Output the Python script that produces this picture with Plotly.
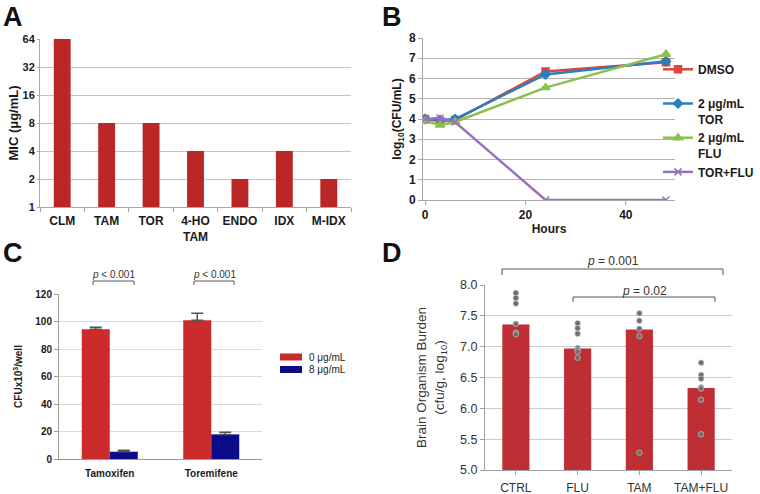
import plotly.graph_objects as go

# ---------------- data ----------------
# Panel A
a_drugs = ["CLM", "TAM", "TOR", "4-HO<br>TAM", "ENDO", "IDX", "M-IDX"]
a_mic = [64, 8, 8, 4, 2, 4, 2]
a_ticks = [1, 2, 4, 8, 16, 32, 64]

# Panel B
b_hours = [0, 3, 6, 24, 48]
b_dmso = [4.0, 3.9, 3.95, 6.35, 6.8]
b_tor = [4.0, 3.95, 4.0, 6.2, 6.85]
b_flu = [3.9, 3.7, 3.85, 5.55, 7.2]
b_torflu = [4.0, 4.05, 3.85, 0.0, 0.0]

# Panel C
c_drugs = ["Tamoxifen", "Toremifene"]
c_zero = [94.3, 101.0]
c_zero_err = [1.5, 5.0]
c_eight = [5.3, 17.9]
c_eight_err = [1.0, 1.5]
c_legend = ["0 μg/mL", "8 μg/mL"]

# Panel D
d_groups = ["CTRL", "FLU", "TAM", "TAM+FLU"]
d_means = [7.36, 6.97, 7.28, 6.33]
d_ctrl_pts = [7.87, 7.79, 7.70, 7.37, 7.23, 7.20]
d_flu_pts = [7.38, 7.30, 7.21, 6.98, 6.95, 6.92, 6.82]
d_tam_pts = [7.54, 7.42, 7.29, 7.17, 5.28]
d_tamflu_pts = [6.74, 6.54, 6.48, 6.34, 6.32, 6.14, 5.58]

FONT = "Liberation Sans, Arial, sans-serif"
W, H = 760, 494
C_RED, C_BLUE = "#cc2b2b", "#0b0b8a"

def px(x):
    return x / W

def py(y):
    return 1 - y / H

fig = go.Figure()

# ---- Panel A ----
fig.add_trace(go.Bar(x=a_drugs, y=a_mic, xaxis="x", yaxis="y", width=0.38,
                     marker=dict(color="#bb2727", line=dict(width=0)), showlegend=False))

# ---- Panel B ----
b_series = [
    ("DMSO<br> ", b_dmso, "#e0443c", "square", 7),
    ("2 μg/mL<br>TOR", b_tor, "#2a7fc0", "diamond", 7),
    ("2 μg/mL<br>FLU", b_flu, "#8cc051", "triangle-up", 8),
    ("TOR+FLU<br> ", b_torflu, "#9a6fc0", "x-thin-open", 7),
]
for name, ys, col, sym, sz in b_series:
    fig.add_trace(go.Scatter(x=b_hours, y=ys, xaxis="x2", yaxis="y2", name=name,
                             mode="lines+markers", line=dict(color=col, width=2.5),
                             marker=dict(symbol=sym, size=sz, color=col,
                                         line=dict(color=col, width=1.5)),
                             legend="legend", legendgroup=name))

# ---- Panel C ----
fig.add_trace(go.Bar(x=c_drugs, y=c_zero, xaxis="x3", yaxis="y3", name=c_legend[0],
                     width=0.276, offset=-0.276,
                     marker=dict(color=C_RED, line=dict(width=0)),
                     error_y=dict(type="data", array=c_zero_err, arrayminus=[0, 0],
                                  color="#555555", thickness=1.5, width=6),
                     showlegend=False))
fig.add_trace(go.Bar(x=c_drugs, y=c_eight, xaxis="x3", yaxis="y3", name=c_legend[1],
                     width=0.276, offset=0,
                     marker=dict(color=C_BLUE, line=dict(width=0)),
                     error_y=dict(type="data", array=c_eight_err, arrayminus=[0, 0],
                                  color="#555555", thickness=1.5, width=6),
                     showlegend=False))

# ---- Panel D ----
fig.add_trace(go.Bar(x=d_groups, y=d_means, xaxis="x4", yaxis="y4", width=0.44,
                     marker=dict(color="#bf2e33", line=dict(width=0)), showlegend=False))
for g, pts in zip(d_groups, [d_ctrl_pts, d_flu_pts, d_tam_pts, d_tamflu_pts]):
    fig.add_trace(go.Scatter(x=[g] * len(pts), y=pts, xaxis="x4", yaxis="y4", mode="markers",
                             marker=dict(size=5.5, color="#6e6e6e",
                                         line=dict(color="#bdbdbd", width=0.8)),
                             showlegend=False))

fig.update_layout(
    template="none",
    width=W, height=H, margin=dict(l=0, r=0, t=0, b=0, pad=0, autoexpand=False),
    paper_bgcolor="white", plot_bgcolor="white",
    font=dict(family=FONT, color="#1a1a1a"),
    barmode="group",
    # Panel A axes
    xaxis=dict(domain=[px(40), px(351)], anchor="y", type="category", automargin=False,
               showline=True, linecolor="#a8a8a8", linewidth=1,
               ticks="outside", tickson="boundaries", ticklen=4, tickcolor="#a8a8a8",
               ticklabelstandoff=3,
               tickfont=dict(family=FONT, size=12, color="#1a1a1a", weight="bold"),
               showgrid=False),
    yaxis=dict(domain=[py(207), py(39)], anchor="x", type="log", automargin=False,
               range=[0, 1.80618], tickvals=a_ticks, ticktext=[str(t) for t in a_ticks],
               showline=True, linecolor="#a8a8a8", ticks="outside", ticklen=2, tickcolor="#a8a8a8",
               gridcolor="#c4c4c4", gridwidth=1, zeroline=False,
               tickfont=dict(family=FONT, size=11, color="#1a1a1a", weight="bold"),
               title=dict(text="MIC (μg/mL)", standoff=0,
                          font=dict(family=FONT, size=13, color="#1a1a1a", weight="bold"))),
    # Panel B axes
    xaxis2=dict(domain=[px(423), px(675)], anchor="y2", range=[-0.4, 49.8], automargin=False,
                tickvals=[0, 20, 40], showline=True, linecolor="#a8a8a8",
                ticks="outside", ticklen=4, tickcolor="#a8a8a8", showgrid=False, zeroline=False,
                tickfont=dict(family=FONT, size=12, color="#1a1a1a", weight="bold"),
                title=dict(text="Hours", standoff=2,
                           font=dict(family=FONT, size=12, color="#1a1a1a", weight="bold"))),
    yaxis2=dict(domain=[py(200), py(38)], anchor="x2", range=[0, 8], dtick=1, automargin=False,
                showline=True, linecolor="#a8a8a8", ticks="outside", ticklen=4, tickcolor="#a8a8a8",
                gridcolor="#b4b4b4", zeroline=False,
                tickfont=dict(family=FONT, size=12, color="#1a1a1a", weight="bold"),
                title=dict(text="log<sub>10</sub>(CFU/mL)", standoff=4,
                           font=dict(family=FONT, size=12, color="#1a1a1a", weight="bold"))),
    # Panel C axes
    xaxis3=dict(domain=[px(59), px(262)], anchor="y3", type="category", automargin=False,
                showline=True, linecolor="#9a9a9a", ticks="", showgrid=False,
                ticklabelstandoff=5,
                tickfont=dict(family=FONT, size=10, color="#1a1a1a", weight="bold")),
    yaxis3=dict(domain=[py(459), py(294)], anchor="x3", range=[0, 120], dtick=20, automargin=False,
                showline=True, linecolor="#9a9a9a", ticks="outside", ticklen=4, tickcolor="#9a9a9a",
                gridcolor="#dadada", zeroline=False,
                tickfont=dict(family=FONT, size=10, color="#1a1a1a", weight="bold"),
                title=dict(text="CFUx10<sup>3</sup>/well", standoff=10,
                           font=dict(family=FONT, size=10, color="#1a1a1a", weight="bold"))),
    # Panel D axes
    xaxis4=dict(domain=[px(485), px(732)], anchor="y4", type="category", automargin=False,
                showline=True, linecolor="#a0a0a0", ticks="outside", ticklen=4, tickcolor="#a0a0a0",
                showgrid=False, ticklabelstandoff=3,
                tickfont=dict(family=FONT, size=12, color="#333333")),
    yaxis4=dict(domain=[py(470), py(285)], anchor="x4", range=[5.0, 8.0], dtick=0.5, automargin=False,
                tickformat=".1f", showline=True, linecolor="#a0a0a0", ticks="outside", ticklen=4,
                tickcolor="#a0a0a0", gridcolor="#cccccc", zeroline=False,
                tickfont=dict(family=FONT, size=12.5, color="#333333"),
                title=dict(text="Brain Organism Burden<br>(cfu/g, log<sub>10</sub>)", standoff=12,
                           font=dict(family=FONT, size=13.5, color="#333333"))),
    legend=dict(x=px(658), y=py(55), xanchor="left", yanchor="top",
                bgcolor="rgba(0,0,0,0)", itemwidth=30, valign="top", tracegroupgap=0,
                font=dict(family=FONT, size=12, color="#1a1a1a", weight="bold")),
)

# panel C legend (compact, drawn as layout items)
for i, (lab, col) in enumerate(zip(c_legend, [C_RED, C_BLUE])):
    yc = 357 + 12.5 * i
    fig.add_shape(type="rect", xref="paper", yref="paper",
                  x0=px(280), x1=px(302), y0=py(yc + 3.5), y1=py(yc - 3.5),
                  fillcolor=col, line=dict(width=0))
    fig.add_annotation(text=lab, x=px(307), y=py(yc), xref="paper", yref="paper",
                       showarrow=False, xanchor="left", yanchor="middle",
                       font=dict(family=FONT, size=10, color="#1a1a1a"))

# panel letters
for letter, x, y in [("A", 13, 17), ("B", 392, 17), ("C", 13, 253), ("D", 392, 253)]:
    fig.add_annotation(text=f"<b>{letter}</b>", x=px(x), y=py(y), xref="paper", yref="paper",
                       showarrow=False, xanchor="center", yanchor="middle",
                       font=dict(family=FONT, size=27, color="#111111"))

# significance brackets
line_c = dict(color="#555555", width=1)
def bracket(x0, x1, y, tip, label, ty, size, color):
    fig.add_shape(type="path", xref="paper", yref="paper",
                  path=f"M {px(x0)} {py(y + tip)} L {px(x0)} {py(y)} L {px(x1)} {py(y)} L {px(x1)} {py(y + tip)}",
                  line=line_c)
    fig.add_annotation(text=label, x=px((x0 + x1) / 2), y=py(ty), xref="paper", yref="paper",
                       showarrow=False, xanchor="center", yanchor="middle",
                       font=dict(family=FONT, size=size, color=color))

bracket(93, 134, 281, 4, "<i>p</i> < 0.001", 274, 10, "#333333")
bracket(194, 234, 281, 4, "<i>p</i> < 0.001", 274, 10, "#333333")
bracket(502, 723, 269, 6, "<i>p</i> = 0.001", 261, 12, "#333333")
bracket(573, 715, 297, 5, "<i>p</i> = 0.02", 291, 12, "#333333")

fig.write_html("out.html", config={"displayModeBar": False},
               post_script="document.body.style.margin='0px';document.body.style.padding='0px';")
